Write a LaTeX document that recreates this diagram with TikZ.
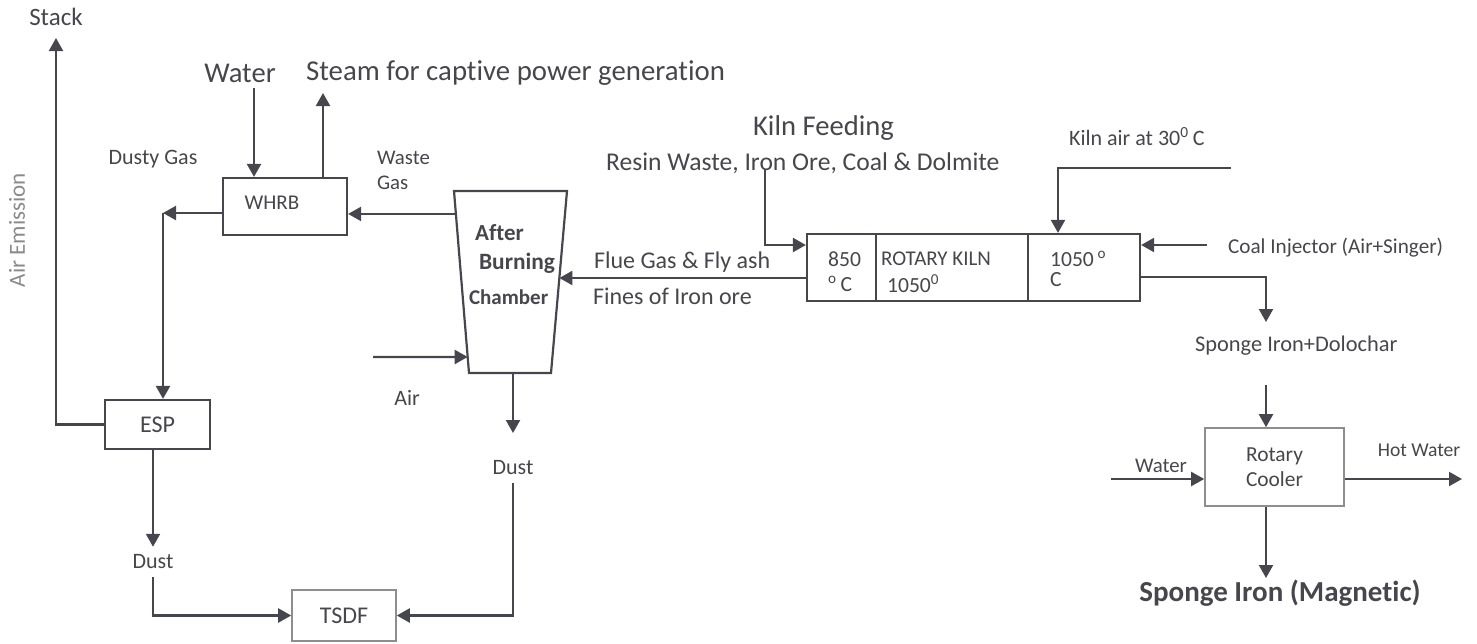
\documentclass[tikz,border=0pt]{standalone}
\usepackage{fontspec}
\setmainfont{Carlito}[Ligatures=CommonOff]
\usetikzlibrary{arrows.meta,calc}
\definecolor{flowline}{HTML}{46464F}
\definecolor{flowtext}{HTML}{46464C}
\definecolor{softline}{HTML}{8E8E92}
\definecolor{softtext}{HTML}{8A8A8E}

\begin{document}
\begin{tikzpicture}[x=0.5pt,y=-0.5pt,>={Triangle[length=6.5pt,width=7pt]},
  line width=1.1pt,font=\fontsize{11}{13}\selectfont,
  every node/.style={text=flowtext,inner sep=1pt},
  unit/.style={draw=flowline,line width=1.1pt},
  light/.style={draw=softline,line width=0.8pt},
  flow/.style={draw=flowline,->}]
 \useasboundingbox (0,0) rectangle (1477,643);
 % process units
 \node[unit,minimum width=62pt,minimum height=28.5pt] (whrb) at (285,206.5) {};
 \node[font=\fontsize{10.5}{12}\selectfont] (whrbtxt) at (272,203) {WHRB};
 \node[unit,minimum width=52.5pt,minimum height=24.5pt,font=\fontsize{12}{14}\selectfont] (esp) at (157.5,424.5) {ESP};
 \node[light,minimum width=52pt,minimum height=25.5pt,font=\fontsize{12}{14}\selectfont] (tsdf) at (344,615.5) {TSDF};
 \node[unit,minimum width=166.5pt,minimum height=33.5pt] (kiln) at (973.5,267.5) {};
 \foreach \dx in {70,222}
   \draw[flowline] ($(kiln.north west)+(\dx,0)$) -- ($(kiln.south west)+(\dx,0)$);
 \node[light,minimum width=69.5pt,minimum height=39pt,align=center,font=\fontsize{10.7}{12.5}\selectfont] (cooler) at (1274.5,467) {Rotary\\Cooler};
 % after burning chamber
 \coordinate (abc-tl) at (454,191);
 \coordinate (abc-tr) at (567,191);
 \coordinate (abc-br) at (551,373);
 \coordinate (abc-bl) at (469,373);
 \draw[flowline,line join=miter] (abc-tl) -- (abc-tr) -- (abc-br) -- (abc-bl) -- cycle;
 \coordinate (abc-w) at ($(abc-tl)!0.126!(abc-bl)$);
 \coordinate (abc-e) at ($(abc-tr)!0.478!(abc-br)$);
 \coordinate (abc-air) at ($(abc-tl)!0.912!(abc-bl)$);
 \coordinate (abc-s) at (513,373);
 \node[anchor=west,font=\fontsize{11.5}{13}\bfseries] (abcafter) at (472,233) {After};
 \node[anchor=west,font=\fontsize{11.7}{13}\bfseries] (abcburn) at (476,263) {Burning};
 \node[anchor=west,font=\fontsize{10.5}{12}\bfseries] (abcchamber) at (466,297) {Chamber};
 % kiln labels
 \node[anchor=west,font=\fontsize{10.8}{12}\selectfont] (k850) at (825,259) {850};
 \node[anchor=west,font=\fontsize{10.8}{12}\selectfont] (k850c) at (825,284) {\textsuperscript{o}\,C};
 \node[anchor=west,font=\fontsize{10.5}{12}\selectfont] (krotary) at (878,259) {ROTARY KILN};
 \node[anchor=west,font=\fontsize{10.8}{12}\selectfont] (kmid) at (884,284) {1050\textsuperscript{0}};
 \node[anchor=west,font=\fontsize{10.8}{12}\selectfont] (khot) at (1047,259) {1050\,\textsuperscript{o}};
 \node[anchor=west,font=\fontsize{10.8}{12}\selectfont] (khotc) at (1047,280) {C};
 % stream labels
 \node[font=\fontsize{12.5}{14}\selectfont] (stack) at (56,17) {Stack};
 \node[rotate=90,text=softtext,font=\fontsize{11.5}{13}\selectfont] (airem) at (17,230) {Air Emission};
 \node[font=\fontsize{14.3}{16}\selectfont] (water) at (240,73) {Water};
 \node[anchor=west,font=\fontsize{14.4}{16}\selectfont] (steam) at (303,73) {Steam for captive power generation};
 \node (dusty) at (153,159) {Dusty Gas};
 \node[anchor=west,align=left,font=\fontsize{10.4}{12.5}\selectfont] (waste) at (374,170) {Waste\\Gas};
 \node[inner ysep=3.5pt] (dust1) at (153,562) {Dust};
 \node[inner ysep=3.5pt] (dust2) at (513,468) {Dust};
 \node (air) at (407,398) {Air};
 \node[anchor=west,font=\fontsize{14.3}{16}\selectfont] (kilnfeed) at (750,128) {Kiln Feeding};
 \node[anchor=west,font=\fontsize{12.8}{14}\selectfont] (resin) at (603,163) {Resin Waste, Iron Ore, Coal \& Dolmite};
 \node[anchor=west,font=\fontsize{12}{14}\selectfont] (flue) at (591,262) {Flue Gas \& Fly ash};
 \node[anchor=west,font=\fontsize{12}{14}\selectfont] (fines) at (590,296) {Fines of Iron ore};
 \node[anchor=west] (kilnair) at (1066,137) {Kiln air at 30\textsuperscript{0}\,C};
 \node[anchor=west,font=\fontsize{10.6}{12}\selectfont] (coalinj) at (1225,248) {Coal Injector (Air+Singer)};
 \node[anchor=west,font=\fontsize{11.2}{13}\selectfont] (sponge) at (1192,346) {Sponge Iron+Dolochar};
 \node[font=\fontsize{10.4}{12}\selectfont] (cwater) at (1161,466) {Water};
 \node[font=\fontsize{9.8}{12}\selectfont] (hotwater) at (1419,450) {Hot Water};
 \node[font=\fontsize{14.5}{16}\bfseries] (magnetic) at (1280,593) {Sponge Iron (Magnetic)};
 % flows
 \coordinate (stacktop) at (56,38);
 \draw[flow] (esp.west) -| (stacktop);
 \coordinate (waterin) at (254,88);
 \draw[flow] (waterin) -- (waterin |- whrb.north);
 \coordinate (steamout) at (323,93);
 \draw[flow] (steamout |- whrb.north) -- (steamout);
 \draw[flow] (abc-w) -- (abc-w -| whrb.east);
 \coordinate (dgbend) at (163,213);
 \draw[flow] (whrb.west |- dgbend) -- (dgbend);
 \draw[flow] (dgbend) -- (dgbend |- esp.north);
 \draw[flow] (dust1.north |- esp.south) -- (dust1.north);
 \draw[flow] (dust1.south) |- (tsdf.west);
 \coordinate (dust2tip) at (513,433);
 \draw[flow] (abc-s) -- (dust2tip);
 \draw[flow] (dust2.south) |- (tsdf.east);
 \coordinate (airin) at (373,357);
 \draw[flow] (airin) -- (abc-air);
 \draw[flow] (kiln.west |- abc-e) -- (abc-e);
 \coordinate (feedtop) at (765,170);
 \draw[flow] (feedtop) |- ($(kiln.west)+(0,-22.5)$);
 \coordinate (kairend) at (1231,168);
 \coordinate (kairbend) at (1058,168);
 \draw[flow] (kairend) -- (kairbend) -- (kairbend |- kiln.north);
 \coordinate (coalin) at (1207,245);
 \draw[flow] (coalin) -- (coalin -| kiln.east);
 \coordinate (spongetip) at (1266,322);
 \draw[flow] ($(kiln.east)+(0,9.5)$) -| (spongetip);
 \coordinate (coolin) at (1266,385);
 \draw[flow] (coolin) -- (coolin |- cooler.north);
 \coordinate (cwaterin) at (1111,479);
 \draw[flow] (cwaterin) -- (cwaterin -| cooler.west);
 \coordinate (hwout) at (1462,479);
 \draw[flow] (hwout -| cooler.east) -- (hwout);
 \coordinate (magtip) at (1266,578);
 \draw[flow] (magtip |- cooler.south) -- (magtip);
\end{tikzpicture}
\end{document}
